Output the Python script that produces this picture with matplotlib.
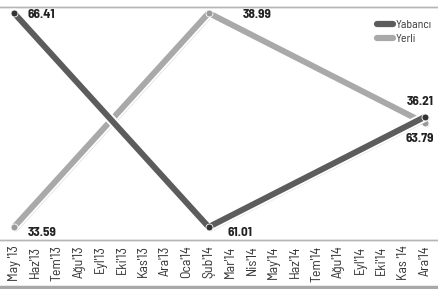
import matplotlib.pyplot as plt
import matplotlib.patheffects as pe
from matplotlib.lines import Line2D

# month labels on the x axis
months = ["May '13", "Haz'13", "Tem'13", "Ağu'13", "Eyl'13", "Eki'13", "Kas'13", "Ara'13",
          "Oca'14", "Şub'14", "Mar'14", "Nis'14", "May'14", "Haz'14", "Tem'14", "Ağu'14",
          "Eyl'14", "Eki'14", "Kas '14", "Ara'14"]

# data points (month index, value)
point_idx = [0, 9, 19]
yabanci = [66.41, 61.01, 63.79]
yerli = [33.59, 38.99, 36.21]
# labels as printed on the chart
yabanci_labels = ["66.41", "61.01", "36.21"]
yerli_labels = ["33.59", "38.99", "63.79"]

font = ['Barlow Semi Condensed', 'DejaVu Sans']
dark = '#5c5c5c'
light = '#a9a9a9'

fig = plt.figure(figsize=(4.38, 2.89), dpi=100)
ax = fig.add_axes([0, 49 / 289, 1, 233 / 289])
ax2 = ax.twinx()

fx = [pe.SimpleLineShadow(offset=(1.2, -1.2), shadow_color='#888888', alpha=0.35),
      pe.Stroke(linewidth=7, foreground='white'), pe.Normal()]

ax.plot(point_idx, yerli, color=light, lw=4.3, solid_capstyle='round',
        path_effects=fx, label='Yerli')
ax.plot(point_idx, yerli, 'o', color='#9a9a9a', ms=5, mec='white', mew=0.6)
ax2.plot(point_idx, yabanci, color=dark, lw=4.3, solid_capstyle='round',
         path_effects=fx, label='Yabancı')
ax2.plot(point_idx, yabanci, 'o', color='#333333', ms=5, mec='white', mew=0.6)


def limits(vals):
    lo, hi = min(vals), max(vals)
    step = (hi - lo) / 214
    return lo - 13 * step, hi + 6 * step


ax.set_ylim(*limits(yerli))
ax2.set_ylim(*limits(yabanci))
ax.set_xlim(-14 / 21.63, 19 + 13 / 21.63)

# value labels
offs_dark = [(13, -2, 'left'), (19, -5, 'left'), (-5, 15, 'center')]
offs_light = [(14, -6, 'left'), (34, -1, 'left'), (-5, -15, 'center')]
for x, y, t, (dx, dy, ha) in zip(point_idx, yabanci, yabanci_labels, offs_dark):
    ax2.annotate(t, (x, y), xytext=(dx * 0.72, dy * 0.72), textcoords='offset points',
                 ha=ha, va='center', fontsize=9.5, fontweight='bold', color='#222222',
                 family=font)
for x, y, t, (dx, dy, ha) in zip(point_idx, yerli, yerli_labels, offs_light):
    ax.annotate(t, (x, y), xytext=(dx * 0.72, dy * 0.72), textcoords='offset points',
                ha=ha, va='center', fontsize=9.5, fontweight='bold', color='#222222',
                family=font)

for a in (ax, ax2):
    for s in ('left', 'right'):
        a.spines[s].set_visible(False)
    a.spines['top'].set_color('#b5b5b5')
    a.spines['bottom'].set_color('#b5b5b5')
    a.spines['top'].set_linewidth(1)
    a.spines['bottom'].set_linewidth(1)
    a.set_yticks([])

ax.set_xticks(range(len(months)))
ax.set_xticklabels(months, rotation=90, fontsize=10, color='#333333', family=font)
ax.tick_params(axis='x', length=0, pad=4)

# thick bar under the month labels
fig.add_artist(Line2D([0, 1], [2.5 / 289, 2.5 / 289], color='#a8a8a8', lw=2.5,
                      transform=fig.transFigure))

handles = [Line2D([], [], color=dark, lw=4.5, solid_capstyle='round'),
           Line2D([], [], color=light, lw=4.5, solid_capstyle='round')]
leg = ax2.legend(handles, ['Yabancı', 'Yerli'], loc='upper right',
                 bbox_to_anchor=(1.01, 0.99), frameon=False, handlelength=1.3,
                 handletextpad=0.25, labelspacing=0.3, prop={'family': font, 'size': 8.5})
for t in leg.get_texts():
    t.set_color('#333333')

fig.savefig('out.png', dpi=100)
